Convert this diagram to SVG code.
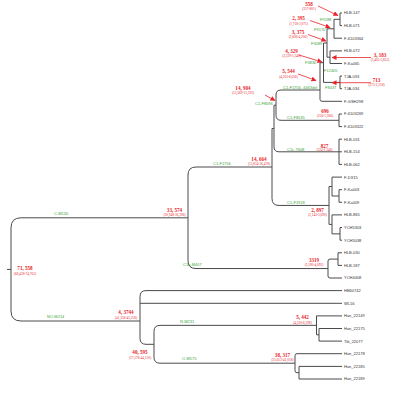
<svg xmlns="http://www.w3.org/2000/svg" width="400" height="397" viewBox="0 0 400 397">
<style>
.br{fill:none;stroke:#4a4a4a;stroke-width:1}
.lf{font-family:"Liberation Sans",Arial,sans-serif;font-size:4px;fill:#333}
.gl{font-family:"Liberation Sans",Arial,sans-serif;font-size:4px;fill:#3aa53a}
.rn{font-family:"Liberation Serif","Times New Roman",serif;font-size:5.1px;font-weight:bold;fill:#e8232b;text-anchor:middle}
.rs{font-family:"Liberation Serif","Times New Roman",serif;font-size:3.4px;fill:#e8232b;text-anchor:middle}
.ar{stroke:#e8232b;stroke-width:0.8;fill:none;marker-end:url(#ah)}
</style>
<defs>
<marker id="ah" viewBox="0 0 10 10" refX="9" refY="5" markerWidth="5" markerHeight="5" orient="auto" markerUnits="userSpaceOnUse">
<path d="M0,0L10,5L0,10z" fill="#e8232b"/>
</marker>
</defs>
<rect width="400" height="397" fill="#fff"/>
<g id="connectors" class="br">
<path d="M342,13H340V25.6H342"/>
<path d="M340,19.3H334V38.2H342"/>
<path d="M342,50.9H330V63.5H342"/>
<path d="M334,28.75H327V57.2H330"/>
<path d="M342,76.1H340V88.7H342"/>
<path d="M327,43H323.5V82.4H340"/>
<path d="M323.5,62.7H320V99.3Q320,101.3 322,101.3H342"/>
<path d="M342,114H339V126.6H342"/>
<path d="M320,90H281Q276,90 276,95V115.3Q276,120.3 281,120.3H339"/>
<path d="M342,139.2H339V164.4H342M339,151.8H342"/>
<path d="M276,105.2H274V146.8Q274,151.8 279,151.8H339"/>
<path d="M342,189.7H339V202.3H342"/>
<path d="M342,177.1H332V196H339"/>
<path d="M342,227.5H340V240.2H342"/>
<path d="M342,214.9H332V233.85H340"/>
<path d="M332,186.5H329V224.4H332"/>
<path d="M274,128.5H272V198.45Q272,205.45 279,205.45H329"/>
<path d="M342,252.8H338V265.4H342"/>
<path d="M338,259.1H330Q328,259.1 328,261.1V276Q328,278 330,278H342"/>
<path d="M272,167H196Q188,167 188,175V260.55Q188,268.55 196,268.55H328"/>
<path d="M342,328.5H319V341.1H342"/>
<path d="M342,315.9H316.5V334.8H319"/>
<path d="M342,366.4H299V379H342"/>
<path d="M342,353.7H297Q295,353.7 295,355.7V370.7Q295,372.7 297,372.7H299"/>
<path d="M316.5,325.35H160Q154,325.35 154,331.35V357.2Q154,363.2 160,363.2H295"/>
<path d="M342,290.6H146Q140,290.6 140,296.6V338.3Q140,344.3 146,344.3H154M140,303.3H342"/>
<path d="M188,217.8H21Q11,217.8 11,227.8V311Q11,321 21,321H140M7,269.4H11"/>
</g>
<g id="arrows">
<path class="ar" d="M318,6L338,15.5"/>
<path class="ar" d="M310,20.5L330,27.5"/>
<path class="ar" d="M308,34.5L326,41"/>
<path class="ar" d="M299,55L322,62"/>
<path class="ar" d="M371,57.5L332,57.5"/>
<path class="ar" d="M298,74L316,80.5"/>
<path class="ar" d="M371,82.7L332,82.7"/>
<path class="ar" d="M265,95L275,100.5"/>
</g>
<g id="leaves" class="lf">
<text id="n-HLB-147" x="344" y="14.4">HLB-147</text>
<text id="n-HLB-071" x="344" y="27">HLB-071</text>
<text id="n-F-6103364" x="344" y="39.6">F-6103364</text>
<text id="n-HLB-072" x="344" y="52.3">HLB-072</text>
<text id="n-F-Ka065" x="344" y="64.9">F-Ka065</text>
<text id="n-TJA-033" x="344" y="77.5">TJA-033</text>
<text id="n-TJA-034" x="344" y="90.1">TJA-034</text>
<text id="n-F-GSH298" x="344" y="102.7">F-GSH298</text>
<text id="n-F-6103269" x="344" y="115.4">F-6103269</text>
<text id="n-F-6103322" x="344" y="128">F-6103322</text>
<text id="n-HLB-031" x="344" y="140.6">HLB-031</text>
<text id="n-HLB-154" x="344" y="153.2">HLB-154</text>
<text id="n-HLB-062" x="344" y="165.8">HLB-062</text>
<text id="n-F-DX15" x="344" y="178.5">F-DX15</text>
<text id="n-F-Ka003" x="344" y="191.1">F-Ka003</text>
<text id="n-F-Ka009" x="344" y="203.7">F-Ka009</text>
<text id="n-HLB-865" x="344" y="216.3">HLB-865</text>
<text id="n-YCH5303" x="344" y="228.9">YCH5303</text>
<text id="n-YCH5038" x="344" y="241.6">YCH5038</text>
<text id="n-HLB-030" x="344" y="254.2">HLB-030</text>
<text id="n-HLB-187" x="344" y="266.8">HLB-187</text>
<text id="n-YCH4408" x="344" y="279.4">YCH4408</text>
<text id="n-HB60742" x="344" y="292">HB60742</text>
<text id="n-WL16" x="344" y="304.7">WL16</text>
<text id="n-Han_22149" x="344" y="317.3">Han_22149</text>
<text id="n-Han_22175" x="344" y="329.9">Han_22175</text>
<text id="n-Tib_22077" x="344" y="342.5">Tib_22077</text>
<text id="n-Han_22178" x="344" y="355.1">Han_22178</text>
<text id="n-Han_22185" x="344" y="367.8">Han_22185</text>
<text id="n-Han_22189" x="344" y="380.4">Han_22189</text>
</g>
<g id="clade-labels" class="gl">
<text x="320" y="20.9">F9188</text>
<text x="314" y="31.4">F9170</text>
<text x="311" y="44.7">F3089</text>
<text x="305" y="63.9">F3830</text>
<text x="324" y="72.4">F12405</text>
<text x="325" y="89.4">F8437</text>
<text x="283" y="88.6">C1-F1756, 4463del</text>
<text x="255" y="104.7">C1-F8096</text>
<text x="287" y="118.7">C1-F8535</text>
<text x="287" y="150.6">C1c-7608</text>
<text x="213" y="164.6">C1-F1756</text>
<text x="287" y="203.7">C1-F1918</text>
<text x="183" y="266.4">C1b-M407</text>
<text x="54" y="215.4">C-M130</text>
<text x="47" y="318.4">NO-M214</text>
<text x="180" y="323.4">N-M231</text>
<text x="182" y="360.4">O-M175</text>
</g>
<g id="ages">
<text class="rn" x="309" y="6">558</text><text class="rs" x="309" y="9.6">(357-801)</text>
<text class="rn" x="298.5" y="19.8">2, 395</text><text class="rs" x="298.5" y="24.6">(1,718-3,075)</text>
<text class="rn" x="298" y="33.8">3, 375</text><text class="rs" x="298" y="38.1">(2,606-4,206)</text>
<text class="rn" x="291.5" y="52.5">4, 329</text><text class="rs" x="291.5" y="57.3">(3,339-5,348)</text>
<text class="rn" x="380" y="56.5">3, 183</text><text class="rs" x="380" y="61.1">(2,405-3,853)</text>
<text class="rn" x="288.5" y="72.5">5, 544</text><text class="rs" x="288.5" y="77.6">(4,503-6,636)</text>
<text class="rn" x="376.5" y="81.5">713</text><text class="rs" x="376.5" y="86.4">(373-1,258)</text>
<text class="rn" x="243" y="89.5">14, 904</text><text class="rs" x="243" y="94.1">(13,369-15,592)</text>
<text class="rn" x="325" y="113.2">696</text><text class="rs" x="325" y="116.8">(256-1,266)</text>
<text class="rn" x="324.5" y="147.5">827</text><text class="rs" x="324.5" y="150.9">(324-1,346)</text>
<text class="rn" x="259" y="160.8">14, 664</text><text class="rs" x="259" y="164.6">(13,834-16,478)</text>
<text class="rn" x="174.5" y="211.5">33, 574</text><text class="rs" x="174.5" y="215.6">(30,948-36,396)</text>
<text class="rn" x="317.5" y="211.5">2, 897</text><text class="rs" x="317.5" y="216.4">(2,143-3,690)</text>
<text class="rn" x="314" y="262.2">3319</text><text class="rs" x="314" y="266.4">(2,590-4,093)</text>
<text class="rn" x="25" y="269.8">71, 558</text><text class="rs" x="25" y="274.6">(68,438-74,763)</text>
<text class="rn" x="126" y="314.2">4, 3744</text><text class="rs" x="126" y="318.6">(41,356-45,358)</text>
<text class="rn" x="302.5" y="319.2">5, 442</text><text class="rs" x="302.5" y="323.6">(4,520-6,398)</text>
<text class="rn" x="140" y="354.2">40, 595</text><text class="rs" x="140" y="358.6">(37,576-44,130)</text>
<text class="rn" x="282.5" y="356.5">38, 317</text><text class="rs" x="282.5" y="360.9">(35,653-41,058)</text>
</g>
</svg>
